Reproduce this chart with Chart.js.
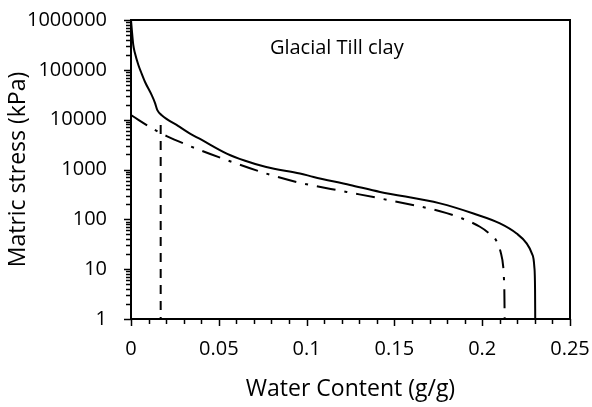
<!DOCTYPE html>
<html><head><meta charset="utf-8">
<script src="https://cdn.jsdelivr.net/npm/chart.js@4.4.1/dist/chart.umd.min.js"></script>
<style>html,body{margin:0;padding:0;background:#fff}#wrap{width:592px;height:407px}</style>
</head><body><div id="wrap"><canvas id="c" width="592" height="407"></canvas></div>
<script>
// Data
const solidX = [0, 0.0004, 0.0013, 0.0022, 0.0042, 0.006, 0.008, 0.0118, 0.0137, 0.015, 0.0175, 0.027, 0.0336, 0.0393, 0.0545, 0.065, 0.077, 0.0962, 0.104, 0.1247, 0.1418, 0.176, 0.195, 0.2101, 0.2196, 0.2253, 0.2282, 0.2297, 0.2301, 0.2302];
const solidY = [1000000, 680000, 315000, 220000, 125000, 85000, 57000, 31000, 21500, 15500, 12300, 7400, 5250, 4100, 2090, 1500, 1120, 830, 710, 490, 355, 209, 131, 83, 52, 33, 21, 11, 3.8, 1];
const dashDotX = [0, 0.0127, 0.0203, 0.0336, 0.0393, 0.0545, 0.077, 0.0944, 0.1228, 0.1418, 0.176, 0.1883, 0.1987, 0.2035, 0.2079, 0.2105, 0.212, 0.2124, 0.2126, 0.2128];
const dashDotY = [12300, 6470, 4690, 2950, 2450, 1550, 830, 560, 355, 263, 145, 105, 71, 54, 38, 22, 11, 6.3, 4, 1];
const dashedX = [0.0169, 0.0169];
const dashedY = [7800, 1];
const xTicks = [0, 0.05, 0.1, 0.15, 0.2, 0.25];
const yTicks = [1, 10, 100, 1000, 10000, 100000, 1000000];
const annotation = {text: 'Glacial Till clay', x: 0.1172, y: 275000};

const FONT = '"Open Sans", sans-serif';
const pts = (xs, ys) => xs.map((x, i) => ({x: x, y: ys[i]}));

const frame = {
  id: 'frame',
  afterDraw(chart) {
    const {ctx, chartArea: a, scales: {x, y}} = chart;
    ctx.save();
    ctx.strokeStyle = '#000';
    ctx.lineWidth = 2;
    ctx.beginPath();
    ctx.moveTo(a.left, a.top); ctx.lineTo(a.right, a.top); ctx.lineTo(a.right, a.bottom);
    ctx.stroke();
    ctx.lineWidth = 1.5;
    for (let i = 0; i <= 25; i++) {
      const v = i / 100;
      const px = Math.round(x.getPixelForValue(v)) + 0.5;
      const len = (i % 5 === 0) ? 7 : 5;
      ctx.beginPath(); ctx.moveTo(px, a.bottom); ctx.lineTo(px, a.bottom + len); ctx.stroke();
    }
    for (let d = 0; d < 6; d++) {
      for (let m = 1; m <= 10; m++) {
        if (d < 5 && m === 10) continue;
        const v = m * Math.pow(10, d);
        const py = Math.round(y.getPixelForValue(v)) + 0.5;
        const len = (m === 1 || m === 10) ? 7 : 5;
        ctx.beginPath(); ctx.moveTo(a.left, py); ctx.lineTo(a.left - len, py); ctx.stroke();
      }
    }
    ctx.fillStyle = '#000';
    ctx.font = '20px ' + FONT;
    ctx.textAlign = 'center';
    ctx.textBaseline = 'middle';
    ctx.fillText(annotation.text, x.getPixelForValue(annotation.x), y.getPixelForValue(annotation.y));
    ctx.restore();
  }
};

new Chart(document.getElementById('c'), {
  type: 'scatter',
  data: {
    datasets: [
      {data: pts(solidX, solidY), showLine: true, borderColor: '#000', borderWidth: 2, pointRadius: 0, cubicInterpolationMode: 'monotone', fill: false},
      {data: pts(dashDotX, dashDotY), showLine: true, borderColor: '#000', borderWidth: 2, borderDash: [19, 9, 3, 9], pointRadius: 0, cubicInterpolationMode: 'monotone', fill: false},
      {data: pts(dashedX, dashedY), showLine: true, borderColor: '#000', borderWidth: 2, borderDash: [9, 7], pointRadius: 0, tension: 0, fill: false}
    ]
  },
  options: {
    responsive: false,
    animation: false,
    devicePixelRatio: 1,
    layout: {padding: {left: 0, right: 22, top: 20, bottom: 0}},
    plugins: {legend: {display: false}, tooltip: {enabled: false}},
    scales: {
      x: {
        type: 'linear', min: 0, max: 0.25,
        afterBuildTicks: s => { s.ticks = xTicks.map(v => ({value: v})); },
        afterFit: s => { s.height = 88; s.paddingLeft = 0; s.paddingRight = 0; },
        grid: {display: true, drawOnChartArea: false, drawTicks: false},
        border: {display: true, color: '#000', width: 2},
        ticks: {color: '#000', font: {family: FONT, size: 20}, padding: 18, maxRotation: 0,
          callback: v => String(v)},
        title: {display: true, text: 'Water Content (g/g)', color: '#000', font: {family: FONT, size: 23}, padding: {top: 4}}
      },
      y: {
        type: 'logarithmic', min: 1, max: 1000000,
        afterBuildTicks: s => { s.ticks = yTicks.map(v => ({value: v})); },
        afterFit: s => { s.width = 131; s.paddingTop = 0; s.paddingBottom = 0; },
        grid: {display: true, drawOnChartArea: false, drawTicks: false},
        border: {display: true, color: '#000', width: 2},
        ticks: {color: '#000', font: {family: FONT, size: 20}, padding: 24,
          callback: v => String(v)},
        title: {display: true, text: 'Matric stress (kPa)', color: '#000', font: {family: FONT, size: 23}, padding: {top: 5, bottom: 0}}
      }
    }
  },
  plugins: [frame]
});
</script>
</body></html>
